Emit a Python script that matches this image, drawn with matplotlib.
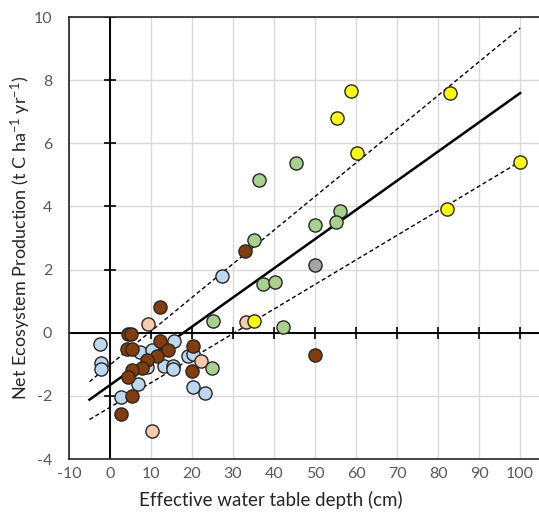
import numpy as np
import matplotlib
matplotlib.use('Agg')
import matplotlib.pyplot as plt

plt.rcParams['font.family'] = ['Lato', 'DejaVu Sans']
plt.rcParams['axes.unicode_minus'] = False
plt.rcParams['mathtext.default'] = 'regular'

# points, grouped by marker colour
x_yellow = [58.8, 55.4, 60.2, 82.9, 100.0, 82.2, 35.1]
y_yellow = [7.66, 6.80, 5.70, 7.59, 5.41, 3.92, 0.38]

x_green = [36.4, 45.3, 56.1, 55.1, 50.1, 35.1, 37.3, 40.3, 25.2, 42.2, 24.8]
y_green = [4.83, 5.37, 3.85, 3.52, 3.41, 2.94, 1.54, 1.62, 0.36, 0.18, -1.12]

x_grey = [50.1]
y_grey = [2.15]

x_brown = [32.8, 50.0, 12.2, 4.3, 5.1, 4.1, 5.3, 12.2, 14.2, 11.4, 8.9, 7.7,
           5.3, 4.5, 5.3, 2.6, 20.3, 20.1]
y_brown = [2.59, -0.70, 0.81, -0.03, -0.03, -0.50, -0.50, -0.25, -0.56, -0.75,
           -0.85, -1.12, -1.17, -1.41, -2.00, -2.56, -0.43, -1.22]

x_blue = [27.2, -2.4, -2.3, -2.3, 7.3, 10.2, 13.8, 15.6, 8.9, 6.9, 13.2, 15.3,
          15.3, 19.1, 20.3, 20.3, 23.2, 2.7]
y_blue = [1.80, -0.36, -0.96, -1.15, -0.62, -0.54, -0.49, -0.25, -1.10, -1.62,
          -1.04, -1.04, -1.15, -0.73, -0.66, -1.72, -1.91, -2.05]

x_peach = [9.2, 33.2, 22.1, 10.2]
y_peach = [0.27, 0.34, -0.89, -3.12]

# regression line and its bounds
line_x = [-5, 100]
fit_y = [-2.12, 7.59]
upper_y = [-1.55, 9.65]
lower_y = [-2.75, 5.42]

xticks = list(range(-10, 101, 10))
yticks = list(range(-4, 11, 2))

fig = plt.figure(figsize=(5.39, 5.19), dpi=100)
ax = fig.add_axes([0.128, 0.1156, 0.872, 0.8516])

ax.set_xlim(-10, 104.6)
ax.set_ylim(-4, 10)
ax.set_xticks(xticks)
ax.set_yticks(yticks)
ax.grid(True, color='#d9d9d9', linewidth=1.0, zorder=0)
ax.set_axisbelow(True)

ax.tick_params(length=0, labelsize=11.5, labelcolor='#595959')
ax.tick_params(axis='x', pad=6)
ax.tick_params(axis='y', pad=12)

for s in ['left', 'bottom', 'top']:
    ax.spines[s].set_color('#262626')
    ax.spines[s].set_linewidth(1.2)
ax.spines['right'].set_visible(False)

# zero lines with crossing ticks
ax.axhline(0, color='black', linewidth=1.4, zorder=1)
ax.axvline(0, color='black', linewidth=1.4, zorder=1)
xt = [t for t in xticks if t > 0]
ax.plot(xt, [0] * len(xt), linestyle='none', marker='|', markersize=9,
        markeredgewidth=1.2, color='black', zorder=1)
yt = [t for t in yticks if t != 0 and t > -4]
ax.plot([0] * len(yt), yt, linestyle='none', marker='_', markersize=9,
        markeredgewidth=1.2, color='black', zorder=1)

ax.plot(line_x, fit_y, color='black', linewidth=1.8, zorder=2)
ax.plot(line_x, upper_y, color='black', linewidth=1.0, linestyle=(0, (3, 2)), zorder=2)
ax.plot(line_x, lower_y, color='black', linewidth=1.0, linestyle=(0, (3, 2)), zorder=2)

kw = dict(s=90, edgecolors='#262626', linewidths=1.0, zorder=3, clip_on=False)
ax.scatter(x_blue, y_blue, c='#bdd7ee', **kw)
ax.scatter(x_brown, y_brown, c='#843c0c', **kw)
ax.scatter(x_peach, y_peach, c='#f8cbad', **kw)
ax.scatter(x_green, y_green, c='#a9d18e', **kw)
ax.scatter(x_grey, y_grey, c='#a5a5a5', **kw)
ax.scatter(x_yellow, y_yellow, c='#ffff00', **kw)

ax.set_xlabel('Effective water table depth (cm)', fontsize=13.5, color='#262626')
ax.xaxis.set_label_coords(0.43, -0.072)
ax.set_ylabel('Net Ecosystem Production (t C ha$^{-1}$ yr$^{-1}$)', fontsize=13,
              color='#262626')
ax.yaxis.set_label_coords(-0.077, 0.5)

fig.savefig('out.png', dpi=100)
plt.close(fig)
